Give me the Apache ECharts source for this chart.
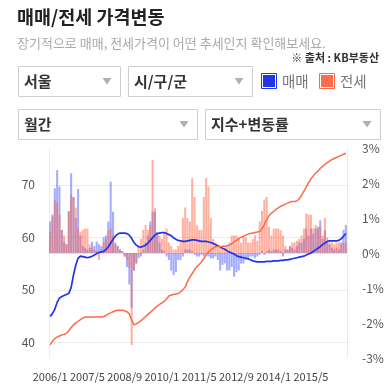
<!DOCTYPE html>
<html><head><meta charset="utf-8">
<script src="https://cdn.jsdelivr.net/npm/echarts@6/dist/echarts.min.js"></script>
<style>html,body{margin:0;padding:0;background:#fff;}#c{width:390px;height:387px;}</style>
</head><body><div id="c"></div>
<script>
const FONT = '"Noto Sans CJK KR","Noto Sans",sans-serif';
const startYear = 2006, monthCount = 128;
const categories = [];
for (let k = 0; k < monthCount; k++) {
  categories.push((startYear + Math.floor(k / 12)) + '/' + (k % 12 + 1));
}
// 매매 지수 (left axis)
const saleIdx = [44.9,45.5,46.3,47.6,48.4,48.7,48.9,49.1,49.3,50.4,
52.8,54.7,56.0,56.4,56.3,56.2,56.1,56.2,56.4,56.6,
56.9,57.1,57.2,57.3,57.7,58.2,58.9,59.6,60.2,60.6,
60.8,60.8,60.8,60.7,60.4,59.8,59.0,58.5,58.2,58.1,
58.3,58.5,58.9,59.4,59.9,60.4,60.7,60.8,60.9,60.9,
60.7,60.5,60.3,59.9,59.6,59.4,59.3,59.2,59.2,59.3,
59.4,59.5,59.5,59.4,59.3,59.2,59.2,59.2,59.1,59.0,
58.8,58.6,58.4,58.2,57.9,57.7,57.4,57.2,57.0,56.8,
56.5,56.3,56.2,56.1,56.0,55.9,55.7,55.5,55.4,55.3,
55.3,55.3,55.3,55.4,55.4,55.4,55.5,55.5,55.5,55.6,
55.6,55.7,55.7,55.8,55.9,56.0,56.1,56.2,56.3,56.4,
56.6,56.8,57.0,57.3,57.6,57.9,58.2,58.6,58.9,59.2,
59.3,59.3,59.3,59.3,59.4,59.7,60.2,60.7];
// 전세 지수 (left axis)
const jeonseIdx = [39.5,40.2,40.7,41.0,41.2,41.4,41.5,41.7,42.2,42.8,
43.3,43.7,44.0,44.3,44.6,44.8,44.8,44.8,44.8,44.8,
44.8,44.8,44.8,44.9,45.1,45.4,45.6,45.8,46.0,46.1,
46.1,46.1,46.0,45.8,45.4,44.2,43.3,43.5,43.8,44.1,
44.5,44.9,45.3,45.7,46.1,46.5,46.9,47.2,47.5,47.8,
48.3,48.8,49.0,49.1,49.2,49.3,49.6,50.0,50.5,51.6,
52.4,53.1,53.8,54.4,54.8,55.3,55.9,56.6,57.2,57.6,
57.9,58.2,58.2,58.2,58.3,58.3,58.4,58.5,58.8,59.1,
59.4,59.7,60.0,60.2,60.4,60.6,60.7,60.8,60.9,61.0,
61.1,61.6,62.4,63.3,64.1,64.6,64.9,65.3,65.6,65.9,
66.1,66.3,66.5,66.7,66.8,66.8,66.9,67.3,68.0,68.8,
69.6,70.4,71.1,71.7,72.2,72.6,73.1,73.5,73.9,74.2,
74.5,74.8,75.0,75.2,75.4,75.6,75.8,76.0];
// 매매 변동률 % (right axis)
const saleChg = [0.9,1.1,1.85,2.37,1.9,0.66,0.32,0.25,1.2,2.28,
1.6,1.0,1.83,0.5,0.2,0.15,0.1,0.15,0.32,0.2,
0.32,0.25,0.2,0.45,0.5,0.9,2.04,1.18,0.3,0.2,
0.1,0.05,-0.1,-0.4,-0.9,-1.57,-0.5,-0.3,-0.15,-0.1,
0.1,0.3,0.5,0.9,1.18,1.18,0.6,0.3,0.1,0.05,
-0.1,-0.2,-0.5,-0.63,-0.55,-0.2,-0.2,-0.1,0.1,0.1,
0.1,0.05,-0.05,-0.1,-0.1,-0.05,-0.1,-0.05,-0.1,-0.15,
-0.15,-0.1,-0.2,-0.5,-0.34,-0.3,-0.5,-0.5,-0.4,-0.68,
-0.55,-0.5,-0.3,-0.3,-0.2,-0.2,-0.1,-0.1,-0.15,-0.1,
-0.05,0.05,-0.05,0.05,0.1,0.05,0.1,0.1,0.1,0.05,
-0.1,0.1,0.1,0.2,0.15,0.1,0.2,0.3,0.3,0.4,
0.7,0.5,0.7,0.55,0.7,0.75,0.93,0.4,0.65,0.3,
0.25,0.15,0.1,0.15,0.1,0.3,0.66,0.8];
// 전세 변동률 % (right axis)
const jeonseChg = [0.6,1.05,1.5,1.45,1.1,0.66,0.5,0.25,1.18,1.66,
1.6,1.3,0.7,0.6,0.66,0.7,0.7,0.25,0.15,0.1,
0.05,-0.2,0.1,0.3,0.4,0.66,0.7,0.5,0.25,0.2,
0.1,0.05,-0.1,-0.2,-0.43,-2.63,-0.5,-0.3,0.2,0.4,
0.66,0.8,0.66,0.8,2.66,1.28,0.5,0.5,0.4,0.6,
0.7,0.3,0.2,0.1,0.1,0.2,0.3,1.0,1.3,1.0,
0.9,2.14,1.6,0.8,0.66,0.66,1.6,2.14,1.9,1.0,
0.4,0.3,0.15,0.15,0.1,0.15,0.2,0.3,0.5,0.5,
0.5,0.45,0.3,0.45,0.45,0.3,0.3,0.4,0.5,0.35,
0.9,1.2,1.53,1.6,0.75,0.5,0.7,0.7,0.7,0.65,
0.5,0.2,0.1,0.2,0.3,0.3,0.35,0.4,0.5,0.7,
1.13,1.1,1.09,0.7,0.8,0.7,0.75,0.5,1.0,0.45,
0.3,0.3,0.25,0.3,0.3,0.25,0.3,0.3];

const BLUE = '#2233ee', ORANGE = '#ff6a4a';

function box(x, y, w, h, label) {
  const tx = x + w - 13, ty = y + h / 2;
  return [
    {type:'rect', shape:{x:x+0.5, y:y+0.5, width:w, height:h}, style:{fill:'#fff', stroke:'#cfcfcf', lineWidth:1}},
    {type:'text', x:x+6, y:ty, style:{text:label, font:'bold 15px ' + FONT, fill:'#333', textVerticalAlign:'middle', verticalAlign:'middle'}},
    {type:'polygon', shape:{points:[[tx-4.5, ty-3], [tx+4.5, ty-3], [tx, ty+3.5]]}, style:{fill:'#b0b0b0'}}
  ];
}
function legendItem(x, y, color, label) {
  return [
    {type:'rect', shape:{x:x+0.5, y:y+0.5, width:15, height:15}, style:{fill:'#fff', stroke:color, lineWidth:1}},
    {type:'rect', shape:{x:x+2, y:y+2, width:12, height:12}, style:{fill:color}},
    {type:'text', x:x+21, y:y+8, style:{text:label, font:'14.5px ' + FONT, fill:'#777', textVerticalAlign:'middle', verticalAlign:'middle'}}
  ];
}

const graphics = [].concat(
  [{type:'text', x:17, y:17, style:{text:'매매/전세 가격변동', font:'bold 18.5px ' + FONT, fill:'#222', textVerticalAlign:'middle', verticalAlign:'middle'}},
   {type:'text', x:17, y:43, style:{text:'장기적으로 매매, 전세가격이 어떤 추세인지 확인해보세요.', font:'13px ' + FONT, fill:'#aaa', textVerticalAlign:'middle', verticalAlign:'middle'}},
   {type:'text', x:379, y:58, style:{text:'※ 출처 : KB부동산', font:'bold 11px ' + FONT, fill:'#333', textAlign:'right', align:'right', textVerticalAlign:'middle', verticalAlign:'middle'}}],
  box(18, 66, 102, 30, '서울'),
  box(128, 66, 124, 30, '시/구/군'),
  box(18, 109, 179, 30, '월간'),
  box(205, 109, 175, 30, '지수+변동률'),
  legendItem(261, 73, BLUE, '매매'),
  legendItem(319, 73, ORANGE, '전세')
);

const chart = echarts.init(document.getElementById('c'), null, {renderer:'canvas'});
chart.setOption({
  animation:false,
  textStyle:{fontFamily:FONT},
  graphic:graphics,
  grid:{left:49, right:43, top:148, bottom:29},
  xAxis:{type:'category', data:categories, boundaryGap:true,
    axisLine:{lineStyle:{color:'#e4e4e4'}}, axisTick:{show:false},
    axisLabel:{interval:15, color:'#444', fontSize:11, margin:13, fontFamily:FONT}},
  yAxis:[
    {type:'value', min:37, max:77, splitNumber:4,
     axisLine:{show:true, lineStyle:{color:'#ececec'}}, axisTick:{show:false},
     axisLabel:{color:'#555', fontSize:12, margin:14, fontFamily:FONT,
       formatter:function(v){ return v % 10 === 0 ? String(v) : ''; }},
     splitLine:{show:true, showMinLine:false, showMaxLine:false, lineStyle:{color:'#ececec'}}},
    {type:'value', min:-3, max:3, interval:1, position:'right',
     axisLine:{show:true, lineStyle:{color:'#ececec'}}, axisTick:{show:false},
     axisLabel:{color:'#555', fontSize:12, margin:15, fontFamily:FONT, formatter:'{value}%'},
     splitLine:{show:false}}
  ],
  series:[
    {name:'매매 변동률', type:'bar', yAxisIndex:1, data:saleChg, barGap:'-100%', barCategoryGap:'12%',
     itemStyle:{color:'rgba(50,70,255,0.45)'}, z:2},
    {name:'전세 변동률', type:'bar', yAxisIndex:1, data:jeonseChg, barGap:'-100%', barCategoryGap:'12%',
     itemStyle:{color:'rgba(255,100,70,0.5)'}, z:2},
    {name:'매매', type:'line', yAxisIndex:0, data:saleIdx, showSymbol:false, smooth:false,
     lineStyle:{color:BLUE, width:1.7}, itemStyle:{color:BLUE}, z:5},
    {name:'전세', type:'line', yAxisIndex:0, data:jeonseIdx, showSymbol:false, smooth:false,
     lineStyle:{color:ORANGE, width:1.5}, itemStyle:{color:ORANGE}, z:5}
  ]
});
</script></body></html>
